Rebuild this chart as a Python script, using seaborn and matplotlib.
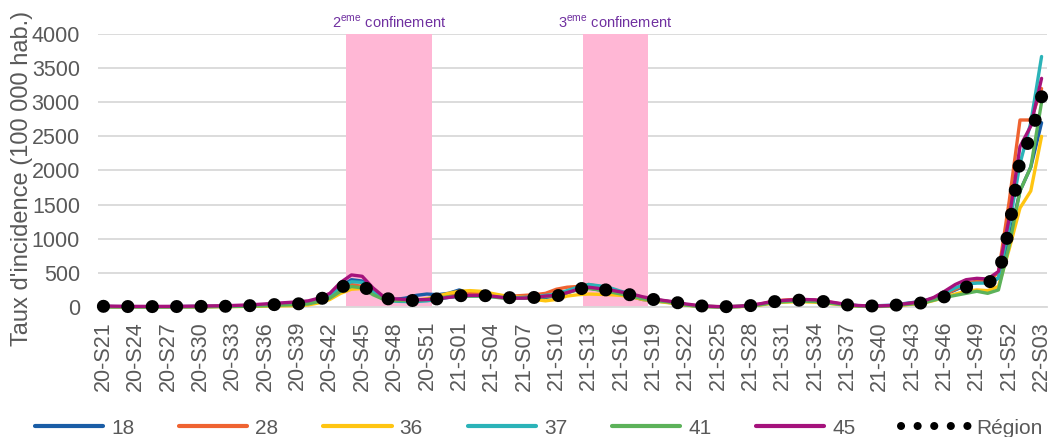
import numpy as np
import pandas as pd
import matplotlib
matplotlib.use("Agg")
import matplotlib.pyplot as plt
from matplotlib.lines import Line2D
import seaborn as sns

# weekly labels 20-S21 .. 22-S03
weeks = ([f"20-S{w:02d}" for w in range(21, 54)]
         + [f"21-S{w:02d}" for w in range(1, 53)]
         + [f"22-S{w:02d}" for w in range(1, 4)])

# incidence rates (per 100 000 inhabitants)
dep_18 = [8, 6, 5, 5, 4, 4, 5, 6, 7, 8,
          9, 10, 12, 16, 20, 28, 36, 45, 50, 65,
          110, 170, 300, 400, 380, 240, 140, 110, 130, 170,
          190, 180, 200, 250, 200, 180, 160, 140, 130, 130,
          130, 140, 160, 210, 260, 280, 250, 220, 180, 150,
          110, 90, 75, 55, 30, 15, 8, 4, 4, 8,
          18, 40, 70, 85, 95, 95, 90, 70, 50, 30,
          20, 18, 20, 25, 45, 65, 85, 130, 180, 250,
          320, 360, 370, 420, 1000, 1700, 2050, 2700]
dep_28 = [5, 4, 4, 3, 3, 3, 3, 4, 5, 6,
          8, 10, 12, 15, 20, 25, 32, 38, 42, 50,
          90, 150, 250, 330, 300, 200, 120, 100, 100, 100,
          110, 130, 160, 190, 200, 200, 180, 160, 160, 170,
          180, 200, 260, 290, 300, 330, 300, 250, 210, 170,
          130, 110, 90, 65, 35, 18, 10, 5, 5, 10,
          20, 45, 80, 100, 110, 110, 100, 80, 55, 30,
          18, 12, 12, 20, 35, 55, 75, 120, 180, 260,
          340, 380, 380, 500, 1550, 2740, 2740, 3200]
dep_36 = [3, 3, 2, 2, 2, 2, 2, 2, 3, 3,
          4, 5, 6, 8, 10, 12, 15, 18, 20, 30,
          60, 110, 200, 260, 270, 200, 130, 105, 95, 100,
          120, 160, 200, 230, 240, 230, 200, 170, 150, 140,
          110, 90, 110, 160, 180, 190, 185, 180, 170, 150,
          110, 90, 70, 50, 25, 12, 5, 2, 2, 5,
          12, 30, 55, 70, 75, 75, 70, 55, 40, 20,
          10, 8, 8, 12, 25, 40, 55, 95, 140, 190,
          230, 250, 240, 300, 850, 1450, 1700, 2500]
dep_37 = [6, 5, 5, 4, 4, 4, 4, 5, 6, 7,
          8, 10, 13, 18, 25, 35, 45, 55, 60, 75,
          120, 170, 290, 370, 360, 220, 110, 85, 80, 80,
          90, 110, 140, 150, 160, 160, 150, 140, 135, 140,
          150, 170, 190, 240, 290, 330, 310, 280, 230, 190,
          140, 110, 90, 65, 35, 15, 8, 4, 4, 8,
          18, 40, 70, 85, 95, 95, 90, 70, 50, 30,
          18, 14, 15, 20, 35, 55, 80, 130, 200, 280,
          340, 350, 350, 420, 1200, 2100, 2700, 3670]
dep_41 = [4, 3, 3, 3, 2, 2, 2, 3, 3, 4,
          5, 6, 8, 10, 14, 18, 24, 30, 35, 45,
          80, 130, 230, 300, 280, 180, 110, 95, 95, 100,
          110, 130, 150, 160, 160, 160, 150, 130, 125, 130,
          140, 150, 170, 210, 250, 270, 250, 220, 190, 160,
          120, 100, 80, 60, 30, 15, 7, 3, 3, 8,
          15, 35, 60, 75, 85, 85, 80, 60, 45, 25,
          15, 12, 12, 18, 30, 45, 60, 100, 140, 170,
          200, 230, 200, 250, 900, 1700, 2050, 3000]
dep_45 = [15, 12, 10, 9, 9, 9, 9, 10, 12, 14,
          16, 18, 22, 28, 35, 45, 55, 65, 75, 90,
          130, 200, 360, 470, 450, 280, 150, 120, 110, 105,
          110, 120, 140, 160, 170, 170, 160, 140, 130, 130,
          140, 160, 170, 210, 260, 290, 270, 250, 220, 190,
          150, 120, 95, 75, 45, 25, 12, 6, 6, 12,
          25, 50, 80, 95, 105, 110, 105, 85, 60, 35,
          22, 16, 16, 22, 40, 60, 85, 140, 230, 330,
          400, 420, 410, 520, 1300, 2350, 2650, 3350]
region = [10, 8, 7, 6, 6, 6, 6, 7, 8, 9,
          8, 10, 12, 16, 22, 28, 36, 42, 45, 60,
          110, 170, 290, 340, 310, 210, 130, 105, 95, 95,
          100, 120, 150, 165, 170, 170, 160, 140, 135, 135,
          140, 150, 160, 200, 260, 290, 265, 240, 200, 175,
          130, 110, 90, 70, 40, 20, 10, 5, 5, 10,
          20, 45, 75, 90, 100, 100, 95, 75, 55, 30,
          20, 15, 15, 20, 35, 50, 60, 100, 150, 220,
          290, 330, 350, 450, 1150, 2150, 2500, 3080]

departements = ["18", "28", "36", "37", "41", "45"]
dep_colors = ["#1A5DA6", "#EF6331", "#FFC511", "#2BB3B8", "#5CB25A", "#A5127C"]

conf_names = ["2", "3"]
conf_start = ["20-S44", "21-S13"]
conf_end = ["20-S51", "21-S18"]

grey = "#595959"

series = [dep_18, dep_28, dep_36, dep_37, dep_41, dep_45]
df = pd.concat([pd.DataFrame({"semaine": weeks, "taux": vals, "dep": d})
                for d, vals in zip(departements, series)], ignore_index=True)
df["pos"] = pd.Categorical(df["semaine"], categories=weeks).codes
reg = pd.DataFrame({"semaine": weeks, "taux": region})
reg["pos"] = pd.Categorical(reg["semaine"], categories=weeks).codes

sns.set_theme(style="white")
plt.rcParams["font.family"] = ["Liberation Sans", "DejaVu Sans"]
plt.rcParams["mathtext.fontset"] = "custom"
plt.rcParams["mathtext.rm"] = "Liberation Sans"

fig = plt.figure(figsize=(10.57, 4.37), dpi=100)
ax = fig.add_axes([0.0927, 0.2975, 0.8978, 0.6247])
ax.set_axisbelow(True)
ax.set_xlim(-0.5, len(weeks) - 0.5)
ax.set_ylim(0, 4000)

# lockdown periods
for name, s, e in zip(conf_names, conf_start, conf_end):
    i0, i1 = weeks.index(s), weeks.index(e)
    ax.axvspan(i0 - 0.5, i1 + 0.5, color="#FFB7D5", lw=0, zorder=1)
    ax.text((i0 + i1) / 2, 4170, rf"{name}$^{{\mathrm{{eme}}}}$ confinement",
            ha="center", va="center", fontsize=10.5, color="#7030A0")

sns.lineplot(data=df, x="pos", y="taux", hue="dep", palette=dep_colors,
             lw=2.4, sort=False, legend=False, ax=ax, zorder=3, clip_on=False)

# round-dot line: pick the dot spacing so a dot lands on the last week too
reg_lw = 9.4
lw_px = reg_lw * fig.dpi / 72
pix = ax.transData.transform(np.column_stack([reg["pos"], reg["taux"]]))
path_len = np.hypot(*np.diff(pix, axis=0).T).sum()
period = path_len / round(path_len / 24.4)
sns.lineplot(data=reg, x="pos", y="taux", color="black", lw=reg_lw,
             linestyle=(0, (0.01, period / lw_px - 0.01)), dash_capstyle="round",
             sort=False, ax=ax, zorder=4, clip_on=False)

ax.set_xlim(-0.5, len(weeks) - 0.5)
ax.set_ylim(0, 4000)
ax.set_xticks(range(0, len(weeks), 3))
ax.set_xticklabels(weeks[::3], rotation=90, fontsize=15.5, color=grey)
ax.set_yticks(range(0, 4001, 500))
ax.tick_params(axis="x", length=0, pad=10)
ax.tick_params(axis="y", length=0, pad=13, labelsize=15.5, labelcolor=grey)
ax.grid(axis="y", color="#D9D9D9", lw=1.3)
for side in ["left", "right", "top"]:
    ax.spines[side].set_visible(False)
ax.spines["bottom"].set_color("#D9D9D9")
ax.spines["bottom"].set_linewidth(1.3)

ax.set_xlabel("")
ax.set_ylabel("Taux d'incidence (100 000 hab.)", fontsize=17, color=grey)
ax.yaxis.set_label_coords(-0.068, 0.47)

handles = [Line2D([], [], color=c, lw=3) for c in dep_colors]
handles.append(Line2D([], [], color="black", lw=5.8,
                      linestyle=(0, (0.01, 2.05)), dash_capstyle="round"))
fig.legend(handles, departements + ["Région"], loc="center left",
           bbox_to_anchor=(35 / 1057, 9 / 437), ncol=7, frameon=False,
           fontsize=15, handlelength=3.27, handletextpad=0.38,
           columnspacing=2.16, borderpad=0, borderaxespad=0, labelcolor=grey)

fig.savefig("out.png", dpi=100)
